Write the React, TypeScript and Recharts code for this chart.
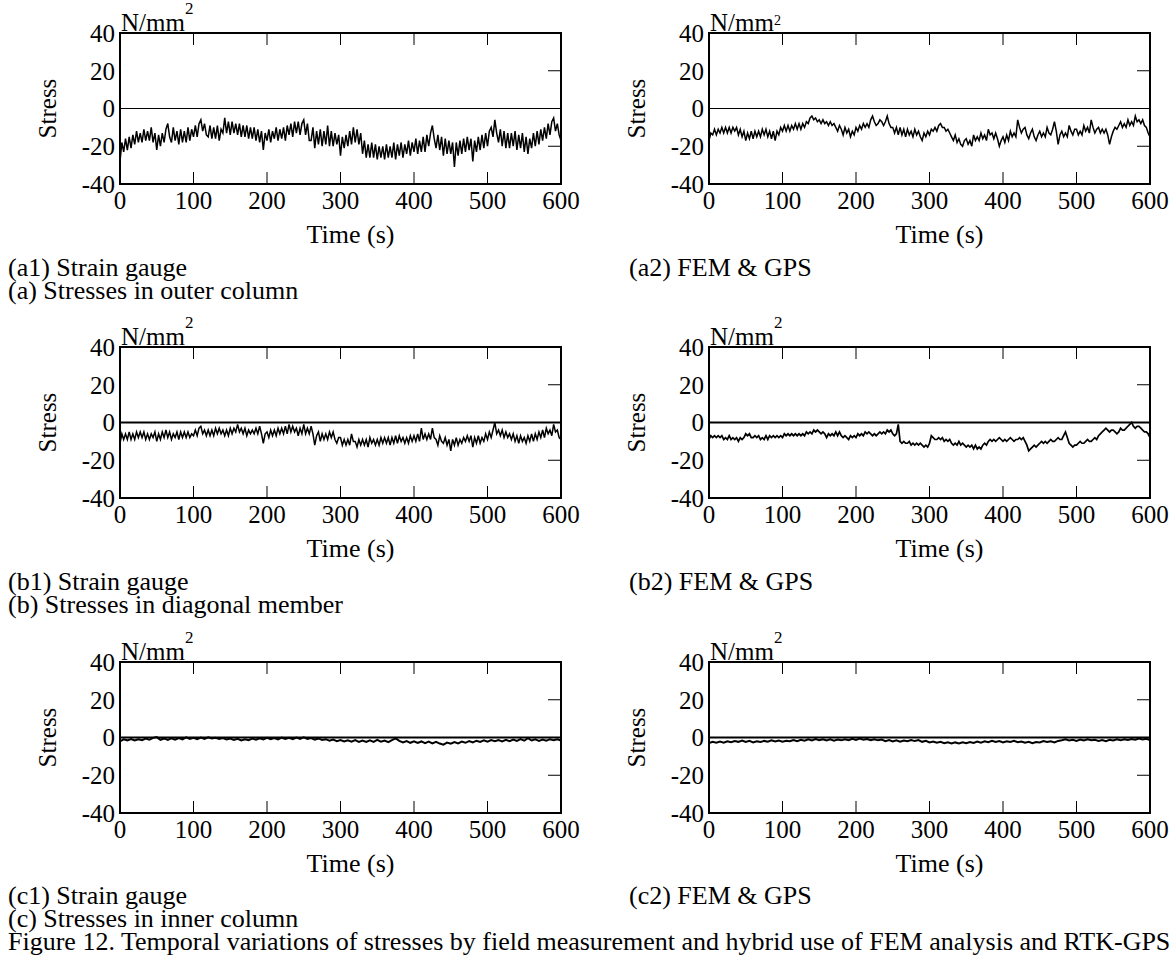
import React from 'react';
import { LineChart, Line, XAxis, YAxis, ReferenceLine } from 'recharts';

// time samples (s), 2.5 s apart, for the noisier records
const TIME_FINE = [
  0, 2.5, 5, 7.5, 10, 12.5, 15, 17.5,
  20, 22.5, 25, 27.5, 30, 32.5, 35, 37.5,
  40, 42.5, 45, 47.5, 50, 52.5, 55, 57.5,
  60, 62.5, 65, 67.5, 70, 72.5, 75, 77.5,
  80, 82.5, 85, 87.5, 90, 92.5, 95, 97.5,
  100, 102.5, 105, 107.5, 110, 112.5, 115, 117.5,
  120, 122.5, 125, 127.5, 130, 132.5, 135, 137.5,
  140, 142.5, 145, 147.5, 150, 152.5, 155, 157.5,
  160, 162.5, 165, 167.5, 170, 172.5, 175, 177.5,
  180, 182.5, 185, 187.5, 190, 192.5, 195, 197.5,
  200, 202.5, 205, 207.5, 210, 212.5, 215, 217.5,
  220, 222.5, 225, 227.5, 230, 232.5, 235, 237.5,
  240, 242.5, 245, 247.5, 250, 252.5, 255, 257.5,
  260, 262.5, 265, 267.5, 270, 272.5, 275, 277.5,
  280, 282.5, 285, 287.5, 290, 292.5, 295, 297.5,
  300, 302.5, 305, 307.5, 310, 312.5, 315, 317.5,
  320, 322.5, 325, 327.5, 330, 332.5, 335, 337.5,
  340, 342.5, 345, 347.5, 350, 352.5, 355, 357.5,
  360, 362.5, 365, 367.5, 370, 372.5, 375, 377.5,
  380, 382.5, 385, 387.5, 390, 392.5, 395, 397.5,
  400, 402.5, 405, 407.5, 410, 412.5, 415, 417.5,
  420, 422.5, 425, 427.5, 430, 432.5, 435, 437.5,
  440, 442.5, 445, 447.5, 450, 452.5, 455, 457.5,
  460, 462.5, 465, 467.5, 470, 472.5, 475, 477.5,
  480, 482.5, 485, 487.5, 490, 492.5, 495, 497.5,
  500, 502.5, 505, 507.5, 510, 512.5, 515, 517.5,
  520, 522.5, 525, 527.5, 530, 532.5, 535, 537.5,
  540, 542.5, 545, 547.5, 550, 552.5, 555, 557.5,
  560, 562.5, 565, 567.5, 570, 572.5, 575, 577.5,
  580, 582.5, 585, 587.5, 590, 592.5, 595, 597.5,
  600,
];

// time samples (s), 5 s apart, for the quiet inner-column records
const TIME = [
  0, 5, 10, 15, 20, 25, 30, 35, 40, 45,
  50, 55, 60, 65, 70, 75, 80, 85, 90, 95,
  100, 105, 110, 115, 120, 125, 130, 135, 140, 145,
  150, 155, 160, 165, 170, 175, 180, 185, 190, 195,
  200, 205, 210, 215, 220, 225, 230, 235, 240, 245,
  250, 255, 260, 265, 270, 275, 280, 285, 290, 295,
  300, 305, 310, 315, 320, 325, 330, 335, 340, 345,
  350, 355, 360, 365, 370, 375, 380, 385, 390, 395,
  400, 405, 410, 415, 420, 425, 430, 435, 440, 445,
  450, 455, 460, 465, 470, 475, 480, 485, 490, 495,
  500, 505, 510, 515, 520, 525, 530, 535, 540, 545,
  550, 555, 560, 565, 570, 575, 580, 585, 590, 595,
  600,
];

const X_TICKS = [0, 100, 200, 300, 400, 500, 600];
const TOP_X_TICKS = [100, 200, 300, 400, 500];
const Y_TICKS = [-40, -20, 0, 20, 40];
const RIGHT_Y_TICKS = [-20, 20];

// (a1) Strain gauge, outer column (N/mm2)
const A1 = [
  -28, -18, -23, -16, -22, -15, -21, -14,
  -19, -12, -18, -13, -18, -11, -17, -12,
  -17, -10, -18, -13, -22, -14, -20, -13,
  -18, -11, -8, -15, -18, -10, -17, -12,
  -19, -11, -18, -12, -18, -10, -17, -11,
  -15, -9, -15, -8, -6, -12, -8, -14,
  -15, -9, -16, -10, -16, -9, -17, -11,
  -13, -5, -13, -7, -14, -7, -13, -8,
  -14, -8, -15, -9, -15, -9, -16, -10,
  -16, -10, -17, -11, -18, -12, -22, -13,
  -17, -11, -18, -12, -16, -10, -17, -11,
  -16, -10, -17, -9, -14, -8, -15, -7,
  -13, -7, -14, -8, -6, -14, -8, -17,
  -17, -10, -21, -12, -19, -11, -20, -12,
  -19, -9, -20, -12, -20, -13, -19, -14,
  -25, -15, -21, -14, -20, -12, -19, -10,
  -18, -11, -19, -13, -24, -17, -26, -19,
  -26, -18, -26, -19, -27, -20, -26, -20,
  -27, -19, -26, -20, -26, -18, -27, -19,
  -25, -18, -26, -19, -24, -17, -25, -18,
  -23, -16, -24, -17, -23, -15, -23, -14,
  -20, -13, -9, -16, -21, -14, -22, -15,
  -25, -16, -24, -17, -24, -18, -31, -18,
  -25, -17, -24, -16, -23, -15, -22, -16,
  -28, -17, -23, -15, -22, -14, -21, -13,
  -20, -12, -10, -15, -6, -13, -18, -11,
  -20, -12, -21, -13, -21, -13, -20, -12,
  -22, -14, -21, -13, -23, -15, -24, -16,
  -21, -13, -20, -12, -19, -11, -17, -10,
  -16, -8, -14, -7, -5, -12, -8, -14,
  -17,
];

// (a2) FEM & GPS, outer column (N/mm2)
const A2 = [
  -17, -13, -14, -11, -14, -11, -13, -10,
  -13, -10, -13, -10, -13, -10, -12, -10,
  -14, -11, -15, -12, -17, -13, -16, -12,
  -16, -12, -15, -12, -15, -11, -14, -11,
  -15, -12, -16, -12, -17, -12, -14, -10,
  -12, -9, -12, -9, -12, -9, -11, -8,
  -11, -8, -11, -8, -10, -7, -8, -5,
  -4, -6, -5, -7, -6, -8, -6, -8,
  -7, -9, -7, -9, -8, -10, -12, -9,
  -11, -14, -10, -13, -11, -15, -12, -14,
  -10, -12, -9, -11, -8, -10, -8, -10,
  -6, -4, -7, -9, -8, -6, -7, -9,
  -7, -4, -8, -10, -10, -13, -10, -14,
  -10, -14, -11, -15, -11, -14, -12, -15,
  -11, -14, -12, -15, -17, -13, -15, -12,
  -14, -11, -12, -10, -12, -9, -8, -10,
  -10, -12, -11, -13, -15, -17, -14, -18,
  -16, -19, -20, -17, -16, -19, -17, -20,
  -14, -17, -15, -17, -13, -16, -14, -17,
  -11, -14, -13, -16, -13, -16, -20, -17,
  -15, -18, -14, -17, -12, -15, -13, -15,
  -6, -10, -13, -11, -10, -14, -16, -13,
  -11, -15, -17, -14, -12, -15, -13, -15,
  -10, -13, -14, -11, -7, -12, -19, -14,
  -12, -15, -13, -15, -9, -12, -14, -11,
  -11, -14, -12, -14, -9, -12, -10, -13,
  -6, -10, -13, -11, -10, -13, -11, -13,
  -11, -14, -19, -15, -12, -10, -11, -9,
  -7, -10, -8, -10, -6, -9, -7, -9,
  -4, -7, -6, -8, -6, -9, -10, -13,
  -15,
];

// (b1) Strain gauge, diagonal member (N/mm2)
const B1 = [
  -11, -6, -9, -6, -9, -5, -9, -6,
  -9, -5, -8, -5, -8, -5, -9, -6,
  -9, -6, -8, -5, -10, -6, -9, -5,
  -8, -4, -8, -5, -9, -6, -8, -5,
  -9, -5, -8, -5, -8, -5, -8, -6,
  -7, -4, -7, -3, -2, -6, -4, -7,
  -4, -7, -4, -7, -3, -6, -3, -6,
  -4, -7, -4, -7, -3, -6, -3, -5,
  -1, -5, -3, -6, -3, -7, -4, -6,
  -4, -6, -3, -6, -2, -6, -11, -6,
  -5, -8, -4, -7, -4, -7, -3, -6,
  -3, -6, -2, -6, -1, -5, -2, -5,
  -3, -7, -3, -6, -1, -6, -3, -6,
  -2, -6, -12, -7, -5, -10, -6, -9,
  -6, -9, -5, -8, -5, -9, -11, -8,
  -8, -12, -9, -12, -9, -12, -6, -10,
  -10, -13, -9, -12, -9, -12, -9, -13,
  -8, -11, -9, -12, -9, -12, -8, -11,
  -8, -11, -8, -12, -8, -11, -7, -11,
  -7, -10, -8, -11, -8, -11, -7, -10,
  -7, -10, -6, -10, -3, -9, -6, -9,
  -6, -9, -3, -8, -9, -12, -7, -10,
  -11, -8, -12, -9, -15, -9, -12, -8,
  -12, -9, -11, -8, -10, -7, -10, -7,
  -13, -8, -11, -7, -11, -8, -10, -6,
  -9, -5, -8, -4, 0, -6, -4, -7,
  -4, -8, -5, -8, -6, -9, -6, -10,
  -7, -11, -7, -10, -8, -11, -7, -10,
  -6, -10, -6, -9, -5, -8, -4, -8,
  -3, -6, -4, -7, -1, -5, -4, -8,
  -9,
];

// (b2) FEM & GPS, diagonal member (N/mm2)
const B2 = [
  -9, -7, -8, -7, -8, -7, -8, -7,
  -9, -8, -9, -7, -9, -8, -9, -8,
  -10, -8, -9, -8, -6, -7, -6, -8,
  -8, -7, -8, -7, -9, -8, -9, -7,
  -9, -7, -8, -7, -8, -7, -8, -7,
  -8, -6, -7, -6, -7, -6, -7, -6,
  -7, -6, -7, -6, -7, -5, -6, -5,
  -6, -4, -5, -4, -5, -6, -5, -6,
  -8, -6, -7, -6, -7, -5, -7, -5,
  -7, -8, -7, -8, -9, -7, -8, -7,
  -8, -6, -7, -6, -7, -5, -6, -5,
  -6, -7, -6, -7, -6, -5, -6, -5,
  -6, -4, -5, -4, -6, -7, -6, -1,
  -10, -11, -10, -11, -11, -10, -12, -11,
  -12, -11, -12, -11, -12, -13, -12, -13,
  -11, -7, -8, -9, -9, -8, -9, -8,
  -10, -9, -10, -9, -11, -12, -11, -12,
  -10, -12, -11, -12, -13, -12, -13, -12,
  -14, -12, -14, -13, -14, -12, -11, -12,
  -10, -9, -10, -9, -10, -9, -8, -9,
  -10, -9, -10, -9, -8, -9, -10, -9,
  -9, -8, -9, -8, -10, -12, -15, -14,
  -13, -12, -13, -12, -11, -10, -11, -10,
  -11, -10, -9, -10, -10, -9, -8, -9,
  -9, -7, -5, -8, -11, -12, -13, -12,
  -12, -11, -10, -11, -11, -10, -9, -10,
  -10, -9, -8, -9, -7, -6, -5, -4,
  -3, -4, -5, -4, -4, -5, -6, -5,
  -3, -4, -4, -3, -2, -1, 0, -2,
  -3, -2, -2, -3, -4, -5, -5, -6,
  -8,
];

// (c1) Strain gauge, inner column (N/mm2)
const C1 = [
  -2, -1, -1.5, -0.8, -1.6, -1, -1.4, -0.6, -1.2, -0.2,
  0.2, -1.2, -0.5, -1.3, -0.4, -1.1, -0.3, -1, 0.1, -0.8,
  -0.2, -0.9, 0, -0.7, 0.1, -0.5, -0.1, -0.8, -0.3, -1,
  -0.6, -1.3, -0.7, -1.5, -0.9, -1.4, -0.6, -1.2, -0.4, -1,
  -0.2, -0.9, -0.3, -1, -0.1, -0.8, -0.2, -0.9, 0, -0.7,
  0.1, -0.8, -0.3, -1.1, -0.5, -1.3, -0.9, -1.7, -1.1, -1.9,
  -1.3, -2.1, -1.5, -2.2, -1.4, -2.3, -1.6, -2.4, -1.5, -2.3,
  -1.3, -2.2, -1.6, -2.5, -1.4, -0.5, -1.8, -2.6, -1.9, -2.8,
  -2, -2.9, -2.1, -3, -2.2, -3.1, -2.3, -3.2, -3.8, -2.7,
  -3.3, -2.4, -3.1, -2.2, -2.8, -1.9, -2.6, -1.7, -2.3, -1.5,
  -2.2, -1.4, -2, -1.3, -2.1, -1.2, -1.9, -1.1, -1.8, -0.9,
  -1.7, -0.4, -1.6, -1, -1.8, -1.1, -1.7, -0.9, -1.5, -1,
  -1.6,
];

// (c2) FEM & GPS, inner column (N/mm2)
const C2 = [
  -3, -2.3, -2.8, -2.2, -2.7, -2, -2.5, -1.9, -2.3, -1.6,
  -2.4, -1.8, -2.6, -2, -2.4, -1.8, -2.2, -1.5, -2.1, -1.6,
  -2.2, -1.7, -2, -1.3, -1.9, -1.2, -1.7, -1, -1.6, -0.8,
  -1.4, -0.9, -1.6, -1, -1.7, -1.1, -1.5, -0.9, -1.4, -0.7,
  -1.3, -0.6, -1.2, -0.8, -1.4, -0.9, -1.5, -1.1, -1.9, -1.3,
  -2.1, -1.5, -2.2, -1.6, -2, -1.3, -1.9, -1.4, -2.3, -1.8,
  -2.6, -2.1, -2.8, -2.3, -3, -2.5, -3.2, -2.6, -3.1, -2.5,
  -3, -2.4, -2.9, -2.2, -2.7, -2, -2.5, -1.8, -2.4, -1.9,
  -2.6, -2, -2.4, -1.8, -2.5, -2.1, -2.8, -2.3, -3, -2.4,
  -2.6, -1.9, -2.4, -2, -2.6, -1.8, -1.5, -1, -1.6, -1.2,
  -1.8, -1.1, -1.6, -1, -1.5, -1.2, -1.8, -1.3, -1.9, -1.2,
  -1.6, -1, -1.5, -0.9, -1.3, -0.8, -1.2, -0.6, -1.1, -0.7,
  -1.4,
];

const FONT = '"Liberation Serif", "Times New Roman", Times, serif';
const FS = 25;
const CAP_FS = 26;
const FRAME = { stroke: '#000', strokeWidth: 2, strokeLinecap: 'square' as const };

const BottomTick = (p: any) => (
  <g>
    <line x1={p.x} y1={p.y} x2={p.x} y2={p.y - 12} stroke="#000" strokeWidth={1} />
    <text x={p.x} y={p.y + 7} dy="0.71em" textAnchor="middle" fontFamily={FONT} fontSize={FS} fill="#000">
      {p.payload.value}
    </text>
  </g>
);

const TopTick = (p: any) => (
  <line x1={p.x} y1={p.y} x2={p.x} y2={p.y + 12} stroke="#000" strokeWidth={1} />
);

const LeftTick = (p: any) => (
  <text x={p.x - 5} y={p.y} dy="0.355em" textAnchor="end" fontFamily={FONT} fontSize={FS} fill="#000">
    {p.payload.value}
  </text>
);

const RightTick = (p: any) => (
  <line x1={p.x - 13} y1={p.y} x2={p.x} y2={p.y} stroke="#000" strokeWidth={1} />
);

const TimeLabel = (props: any) => {
  const vb = props.viewBox || {};
  return (
    <text x={vb.x + vb.width / 2 + 10} y={vb.y + 59} textAnchor="middle" fontFamily={FONT} fontSize={CAP_FS} fill="#000">
      Time (s)
    </text>
  );
};

const makeYLabel = (supDy: number, supSize: number) => (props: any) => {
  const vb = props.viewBox || {};
  const sx = vb.x + 56;
  const sy = vb.y + vb.height / 2;
  return (
    <g>
      <text
        x={sx}
        y={sy}
        transform={`rotate(-90 ${sx} ${sy})`}
        textAnchor="middle"
        fontFamily={FONT}
        fontSize={FS}
        fill="#000"
      >
        Stress
      </text>
      <text x={vb.x + vb.width + 1} y={vb.y - 2} fontFamily={FONT} fontSize={FS} fill="#000">
        N/mm
        <tspan dy={supDy} fontSize={supSize}>2</tspan>
      </text>
    </g>
  );
};

type PanelProps = {
  times: number[];
  values: number[];
  left: number;
  top: number;
  zeroWidth: number;
  lineWidth: number;
  supDy: number;
  supSize: number;
};

function Panel({ times, values, left, top, zeroWidth, lineWidth, supDy, supSize }: PanelProps) {
  const data = times.map((t, i) => ({ t, v: values[i] }));
  return (
    <div style={{ position: 'absolute', left, top }}>
      <LineChart width={588} height={254} data={data} margin={{ top: 32, right: 26, bottom: 0, left: 0 }}>
        <XAxis
          xAxisId="b"
          dataKey="t"
          type="number"
          domain={[0, 600]}
          ticks={X_TICKS}
          interval={0}
          height={70}
          tickSize={0}
          tickMargin={0}
          tickLine={false}
          axisLine={FRAME}
          tick={BottomTick}
          label={TimeLabel}
          allowDataOverflow
        />
        <XAxis
          xAxisId="top"
          orientation="top"
          dataKey="t"
          type="number"
          domain={[0, 600]}
          ticks={TOP_X_TICKS}
          interval={0}
          height={1}
          tickSize={0}
          tickMargin={0}
          tickLine={false}
          axisLine={FRAME}
          tick={TopTick}
          allowDataOverflow
        />
        <YAxis
          yAxisId="l"
          type="number"
          domain={[-40, 40]}
          ticks={Y_TICKS}
          interval={0}
          width={120}
          tickSize={0}
          tickMargin={0}
          tickLine={false}
          axisLine={FRAME}
          tick={LeftTick}
          label={makeYLabel(supDy, supSize)}
          allowDataOverflow
        />
        <YAxis
          yAxisId="r"
          orientation="right"
          type="number"
          domain={[-40, 40]}
          ticks={RIGHT_Y_TICKS}
          interval={0}
          width={1}
          tickSize={0}
          tickMargin={0}
          tickLine={false}
          axisLine={FRAME}
          tick={RightTick}
          allowDataOverflow
        />
        <ReferenceLine xAxisId="b" yAxisId="l" y={0} stroke="#000" strokeWidth={zeroWidth} />
        <Line
          xAxisId="b"
          yAxisId="l"
          dataKey="v"
          type="linear"
          stroke="#000"
          strokeWidth={lineWidth}
          dot={false}
          activeDot={false}
          isAnimationActive={false}
        />
      </LineChart>
    </div>
  );
}

const Cap = ({ x, baseline, children }: { x: number; baseline: number; children: React.ReactNode }) => (
  <div
    style={{
      position: 'absolute',
      left: x,
      top: baseline - 20,
      fontFamily: FONT,
      fontSize: CAP_FS,
      lineHeight: '22px',
      height: 22,
      whiteSpace: 'nowrap',
      color: '#000',
    }}
  >
    {children}
  </div>
);

const ROW_TOPS = [0, 314, 629];

export default function App() {
  return (
    <div
      style={{
        position: 'absolute',
        left: 0,
        top: 0,
        width: 1176,
        height: 969,
        background: '#fff',
        overflow: 'hidden',
      }}
    >
      <Panel times={TIME_FINE} values={A1} left={0} top={ROW_TOPS[0]} zeroWidth={1} lineWidth={1.5} supDy={-17} supSize={17} />
      <Panel times={TIME_FINE} values={A2} left={589} top={ROW_TOPS[0]} zeroWidth={1} lineWidth={1.5} supDy={-6} supSize={14} />
      <Panel times={TIME_FINE} values={B1} left={0} top={ROW_TOPS[1]} zeroWidth={2} lineWidth={1.5} supDy={-17} supSize={17} />
      <Panel times={TIME_FINE} values={B2} left={589} top={ROW_TOPS[1]} zeroWidth={2} lineWidth={1.7} supDy={-17} supSize={17} />
      <Panel times={TIME} values={C1} left={0} top={ROW_TOPS[2]} zeroWidth={2} lineWidth={2} supDy={-17} supSize={17} />
      <Panel times={TIME} values={C2} left={589} top={ROW_TOPS[2]} zeroWidth={2} lineWidth={2} supDy={-17} supSize={17} />

      <Cap x={8} baseline={277}>(a1) Strain gauge</Cap>
      <Cap x={629} baseline={277}>(a2) FEM &amp; GPS</Cap>
      <Cap x={8} baseline={300}>(a) Stresses in outer column</Cap>

      <Cap x={8} baseline={591}>(b1) Strain gauge</Cap>
      <Cap x={629} baseline={591}>(b2) FEM &amp; GPS</Cap>
      <Cap x={8} baseline={614}>(b) Stresses in diagonal member</Cap>

      <Cap x={8} baseline={905}>(c1) Strain gauge</Cap>
      <Cap x={629} baseline={905}>(c2) FEM &amp; GPS</Cap>
      <Cap x={8} baseline={928}>(c) Stresses in inner column</Cap>

      <Cap x={8} baseline={951}>
        Figure 12. Temporal variations of stresses by field measurement and hybrid use of FEM analysis and RTK-GPS
      </Cap>
    </div>
  );
}
